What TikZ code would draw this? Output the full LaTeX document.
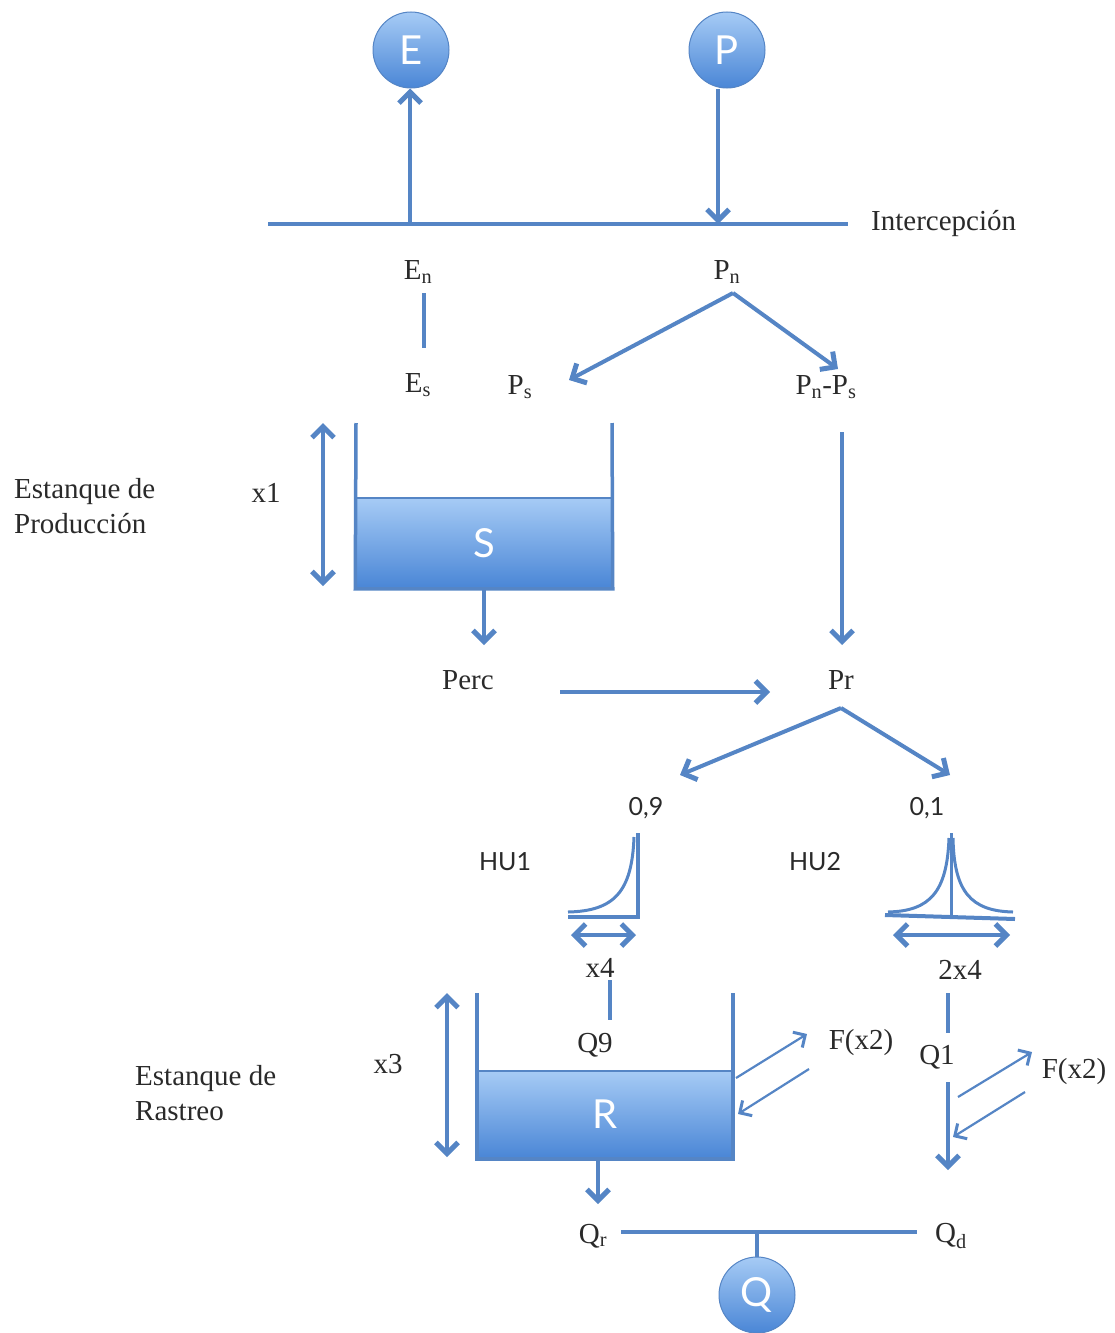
\documentclass[tikz,border=0pt]{standalone}
\usepackage{fontspec}
\setmainfont{Liberation Serif}
\newfontfamily\sff{Lato}
\usetikzlibrary{arrows.meta}
\definecolor{ln}{HTML}{5585C5}
\definecolor{ftop}{HTML}{A6CBF5}
\definecolor{fbot}{HTML}{4A86D6}
\definecolor{txt}{HTML}{2A2A2A}
\tikzset{
 lbl/.style={font=\fontsize{29}{35}\selectfont, inner sep=0pt, text=txt},
 slbl/.style={font=\sff\fontsize{25}{30}\selectfont, inner sep=0pt, text=txt},
 ln/.style={draw=ln, line width=4pt},
 tip/.style={},
 arr/.style={ln, -{Straight Barb[length=11pt,width=22pt,line width=5pt]}},
 darr/.style={ln, {Straight Barb[length=11pt,width=22pt,line width=5pt]}-{Straight Barb[length=11pt,width=22pt,line width=5pt]}},
 thinarr/.style={draw=ln, line width=2.2pt, -{Straight Barb[length=9pt,width=18pt,line width=3pt]}},
 ball/.style={circle, minimum size=76pt, inner sep=0pt, top color=ftop, bottom color=fbot, draw=ln, line width=1pt, text=white, font=\sff\fontsize{40}{40}\selectfont},
 water/.style={rectangle, inner sep=0pt, top color=ftop, bottom color=fbot, draw=ln, line width=1.5pt, text=white, font=\sff\fontsize{40}{40}\selectfont},
}
\begin{document}
\begin{tikzpicture}[x=1pt,y=-1pt]
\useasboundingbox (0,0) rectangle (1114,1333);
% top circles
\node[ball] (E) at (411,50) {E};
\node[ball] (P) at (727,50) {P};
% interception line
\coordinate (Il) at (268,224);
\coordinate (Ir) at (848,224);
\coordinate (Ie) at (410,224);
\coordinate (Ip) at (718,224);
\draw[ln] (Il) -- (Ir);
\node[lbl, anchor=west] (inter) at (871,224) {Intercepción};
\draw[arr] (Ie) -- (Ie |- E.south);
\draw[arr] (P.south -| Ip) -- (Ip);
% En, Es, Pn
\node[lbl] (En) at (418,272) {E\textsubscript{n}};
\node[lbl] (Es) at (418,385) {E\textsubscript{s}};
\node[lbl] (Pn) at (727,272) {P\textsubscript{n}};
\node[lbl] (Ps) at (520,387) {P\textsubscript{s}};
\node[lbl] (PnPs) at (826,387) {P\textsubscript{n}-P\textsubscript{s}};
\coordinate (EnB) at (424,293);
\coordinate (EsT) at (424,348);
\draw[ln] (EnB) -- (EsT);
\coordinate (PnB) at (733,293);
\coordinate (PsE) at (569,380);
\coordinate (PnPsE) at (838,369);
\draw[arr] (PnB) -- (PsE);
\draw[arr] (PnB) -- (PnPsE);
% Production tank
\node[water, minimum width=256pt, minimum height=90pt] (S) at (484,543) {S};
\coordinate (Stl) at (356,423);
\coordinate (Str) at (612,423);
\draw[ln, line width=3.5pt, line join=miter] (Stl) -- (S.south west) -- (S.south east) -- (Str);
\coordinate (x1t) at (323,423);
\coordinate (x1b) at (323,586);
\draw[darr] (x1t) -- (x1b);
\node[lbl] (x1) at (266,493) {x1};
\node[lbl, anchor=north west, align=left] (EP) at (14,478) {Estanque de\\Producción};
\node[lbl] (Perc) at (468,680) {Perc};
\node[lbl] (Pr) at (841,680) {Pr};
\coordinate (Sout) at (484,645);
\draw[arr] (S.south) -- (Sout);
\coordinate (PPt) at (842,432);
\coordinate (PPb) at (842,645);
\draw[arr] (PPt) -- (PPb);
\coordinate (Pa) at (560,692);
\coordinate (Pb) at (770,692);
\draw[arr] (Pa) -- (Pb);
% split
\coordinate (PrB) at (841,708);
\coordinate (SpL) at (680,775);
\coordinate (SpR) at (950,775);
\draw[arr] (PrB) -- (SpL);
\draw[arr] (PrB) -- (SpR);
\node[slbl] (n09) at (646,808) {0,9};
\node[slbl] (n01) at (927,808) {0,1};
\node[slbl] (HU1) at (505,862) {HU1};
\node[slbl] (HU2) at (815,862) {HU2};
% HU1
\coordinate (h1t) at (638,833);
\coordinate (h1c) at (638,917);
\coordinate (h1l) at (568,917);
\draw[ln, line width=3.5pt, line join=miter] (h1t) -- (h1c) -- (h1l);
\draw[ln, line width=3pt] (568,912) .. controls (614,911) and (632,892) .. (634,837);
\coordinate (h1al) at (571,935);
\coordinate (h1ar) at (636,935);
\draw[darr, line width=3.5pt] (h1al) -- (h1ar);
% HU2
\coordinate (h2t) at (951,833);
\coordinate (h2b) at (951,917);
\coordinate (h2l) at (885,915);
\coordinate (h2r) at (1015,919);
\draw[ln, line width=3pt] (h2t) -- (h2b);
\draw[ln, line width=4pt] (h2l) -- (h2r);
\draw[ln, line width=3pt] (888,912) .. controls (930,911) and (947,892) .. (949,838);
\draw[ln, line width=3pt] (1013,912) .. controls (971,911) and (954,892) .. (953,838);
\coordinate (h2al) at (893,935);
\coordinate (h2ar) at (1010,935);
\draw[darr, line width=3.5pt] (h2al) -- (h2ar);
\node[lbl] (x4) at (600,968) {x4};
\node[lbl] (x42) at (960,970) {2x4};
% Routing tank
\coordinate (q9t) at (610,980);
\coordinate (q9b) at (610,1020);
\draw[ln] (q9t) -- (q9b);
\node[lbl] (Q9) at (595,1045) {Q9};
\node[water, minimum width=256pt, minimum height=87pt] (R) at (605,1114.5) {R};
\coordinate (Rtl) at (477,993);
\coordinate (Rtr) at (733,993);
\draw[ln, line width=3.5pt, line join=miter] (Rtl) -- (R.south west -| Rtl) -- (R.south east -| Rtr) -- (Rtr);
\coordinate (x3t) at (447,993);
\coordinate (x3b) at (447,1157);
\draw[darr] (x3t) -- (x3b);
\node[lbl] (x3) at (388,1064) {x3};
\node[lbl, anchor=north west, align=left] (ER) at (135,1065) {Estanque de\\Rastreo};
% F(x2) at R
\coordinate (fa1) at (736,1078);
\coordinate (fa2) at (807,1034);
\coordinate (fb1) at (809,1069);
\coordinate (fb2) at (738,1114);
\draw[thinarr] (fa1) -- (fa2);
\draw[thinarr] (fb1) -- (fb2);
\node[lbl] (F1) at (861,1043) {F(x2)};
% right branch
\coordinate (q1t) at (948,993);
\coordinate (q1b) at (948,1033);
\draw[ln] (q1t) -- (q1b);
\node[lbl] (Q1) at (937,1057) {Q1};
\coordinate (qa) at (948,1082);
\coordinate (qb) at (948,1170);
\draw[arr] (qa) -- (qb);
\coordinate (ga1) at (958,1097);
\coordinate (ga2) at (1032,1052);
\coordinate (gb1) at (1025,1092);
\coordinate (gb2) at (953,1137);
\draw[thinarr] (ga1) -- (ga2);
\draw[thinarr] (gb1) -- (gb2);
\node[lbl] (F2) at (1074,1072) {F(x2)};
% outflow
\coordinate (Rout) at (598,1204);
\draw[arr] (R.south -| Rout) -- (Rout);
\node[lbl] (Qr) at (593,1236) {Q\textsubscript{r}};
\node[lbl] (Qd) at (951,1236) {Q\textsubscript{d}};
\coordinate (ql) at (621,1232);
\coordinate (qr) at (917,1232);
\coordinate (qm) at (757,1232);
\draw[ln] (ql) -- (qr);
\node[ball] (Q) at (757,1295) {Q};
\draw[ln] (qm) -- (Q.north);
\end{tikzpicture}
\end{document}
